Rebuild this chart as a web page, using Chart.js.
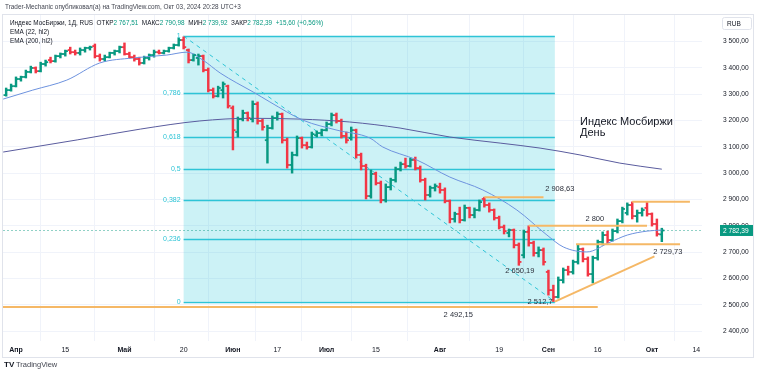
<!DOCTYPE html>
<html>
<head>
<meta charset="utf-8">
<script src="https://cdn.jsdelivr.net/npm/chart.js@4.4.1/dist/chart.umd.min.js"></script>
<style>
  html, body { margin: 0; padding: 0; background: #fff; }
  canvas { display: block; }
</style>
</head>
<body>
<canvas id="chart" width="758" height="375"></canvas>
<script>
// daily bars, index 0 = 1 Apr 2024 (two March bars before it)
const firstBar = -2;
const opens = [
  3296, 3315, 3330, 3357, 3365, 3384, 3399, 3387, 3414, 3429,
  3425, 3444, 3452, 3467, 3459, 3456, 3467, 3475, 3482, 3444,
  3433, 3440, 3456, 3463, 3478, 3452, 3440, 3433, 3418, 3437,
  3448, 3459, 3456, 3463, 3475, 3486, 3505, 3467, 3429, 3437,
  3444, 3391, 3315, 3292, 3315, 3330, 3247, 3156, 3205, 3228,
  3205, 3262, 3198, 3125, 3171, 3209, 3224, 3125, 3031, 3069,
  3133, 3106, 3099, 3144, 3152, 3163, 3186, 3220, 3198, 3141,
  3133, 3163, 3069, 3027, 2913, 2997, 2962, 2898, 2947, 2974,
  3015, 3034, 3027, 3050, 3019, 2974, 2917, 2944, 2947, 2936,
  2894, 2826, 2845, 2822, 2868, 2841, 2860, 2902, 2879, 2860,
  2830, 2795, 2773, 2784, 2727, 2689, 2777, 2735, 2697, 2708,
  2625, 2556, 2530, 2594, 2632, 2625, 2663, 2712, 2674, 2617,
  2678, 2739, 2765, 2746, 2780, 2818, 2849, 2879, 2837, 2849,
  2868, 2845, 2807, 2767.51
];
const highs = [
  3323, 3338, 3365, 3368, 3391, 3406, 3403, 3421, 3429, 3440,
  3448, 3456, 3467, 3478, 3467, 3475, 3478, 3482, 3490, 3452,
  3448, 3459, 3467, 3482, 3494, 3459, 3448, 3440, 3444, 3452,
  3467, 3467, 3467, 3478, 3490, 3512, 3517, 3471, 3452, 3452,
  3448, 3399, 3323, 3330, 3346, 3334, 3255, 3213, 3239, 3232,
  3274, 3270, 3205, 3182, 3217, 3232, 3228, 3133, 3080, 3141,
  3137, 3118, 3156, 3160, 3167, 3194, 3228, 3228, 3205, 3156,
  3175, 3167, 3076, 3034, 3012, 3004, 2970, 2959, 2981, 3023,
  3042, 3057, 3057, 3061, 3027, 2981, 2951, 2959, 2962, 2944,
  2898, 2852, 2871, 2879, 2871, 2868, 2898, 2908.63, 2887, 2864,
  2837, 2803, 2788, 2788, 2735, 2784, 2800, 2742, 2720, 2716,
  2632, 2575, 2606, 2640, 2647, 2670, 2729.73, 2716, 2682, 2685,
  2746, 2777, 2780, 2788, 2826, 2871, 2887, 2891, 2860, 2868,
  2890, 2849, 2826, 2790.98
];
const lows = [
  3292, 3311, 3327, 3349, 3361, 3380, 3380, 3384, 3406, 3418,
  3421, 3437, 3444, 3452, 3448, 3448, 3459, 3467, 3437, 3425,
  3425, 3437, 3448, 3456, 3448, 3437, 3425, 3410, 3414, 3429,
  3440, 3452, 3452, 3459, 3471, 3482, 3471, 3418, 3425, 3410,
  3384, 3308, 3285, 3289, 3285, 3247, 3088, 3137, 3198, 3198,
  3194, 3186, 3163, 3038, 3167, 3201, 3114, 3019, 3000, 3065,
  3095, 3091, 3095, 3137, 3141, 3160, 3179, 3190, 3133, 3114,
  3125, 3057, 3012, 2902, 2905, 2955, 2887, 2890, 2936, 2966,
  3008, 3019, 3023, 3012, 2966, 2898, 2909, 2932, 2924, 2887,
  2811, 2814, 2811, 2818, 2830, 2830, 2856, 2871, 2852, 2822,
  2788, 2769, 2758, 2716, 2650.19, 2678, 2723, 2685, 2682, 2651,
  2537, 2512.7, 2526, 2583, 2613, 2617, 2655, 2663, 2609, 2583,
  2670, 2727, 2735, 2742, 2773, 2811, 2841, 2826, 2814, 2837,
  2837, 2799, 2761, 2739.92
];
const closes = [
  3315, 3330, 3357, 3365, 3384, 3399, 3387, 3414, 3421, 3425,
  3444, 3452, 3463, 3459, 3456, 3467, 3475, 3478, 3444, 3433,
  3440, 3456, 3463, 3478, 3452, 3440, 3433, 3418, 3437, 3448,
  3459, 3456, 3463, 3475, 3486, 3505, 3478, 3429, 3448, 3444,
  3391, 3315, 3292, 3323, 3338, 3255, 3163, 3205, 3228, 3209,
  3262, 3198, 3175, 3171, 3209, 3224, 3125, 3031, 3069, 3133,
  3106, 3099, 3148, 3152, 3163, 3186, 3220, 3198, 3141, 3125,
  3163, 3069, 3027, 2913, 2997, 2962, 2898, 2947, 2974, 3015,
  3034, 3027, 3050, 3019, 2974, 2917, 2944, 2951, 2936, 2894,
  2826, 2845, 2822, 2868, 2841, 2860, 2890, 2879, 2860, 2830,
  2795, 2780, 2784, 2727, 2663, 2777, 2735, 2697, 2708, 2663,
  2556, 2530, 2594, 2632, 2625, 2663, 2712, 2674, 2617, 2678,
  2739, 2765, 2746, 2780, 2818, 2864, 2879, 2837, 2849, 2860,
  2845, 2807, 2769, 2782.39
];

const dateTicks = [0, 10, 22, 34, 44, 53, 63, 73, 86, 98, 108, 118, 129, 138];
const dateLabels = ['Апр', '15', 'Май', '20', 'Июн', '17', 'Июл', '15', 'Авг', '19', 'Сен', '16', 'Окт', '14'];
const monthNames = ['Апр', 'Май', 'Июн', 'Июл', 'Авг', 'Сен', 'Окт'];
const priceTicks = [2400, 2500, 2600, 2700, 2800, 2900, 3000, 3100, 3200, 3300, 3400, 3500];

const ema22Idx = [-2.6, 3.4, 10.3, 17, 23.7, 30.6, 34.7, 37.9, 41.4, 44.8, 48.1, 51.5, 58.2, 65.1,
  71.8, 74.4, 81.3, 88, 94.7, 101.6, 107.7, 111, 115.8, 120.5, 124, 128, 131];
const ema22Val = [3281, 3315, 3353, 3418, 3437, 3448, 3459, 3429, 3380, 3342, 3308, 3270, 3201, 3163,
  3133, 3099, 3050, 2985, 2936, 2860, 2765, 2720, 2701, 2738, 2765, 2780, 2784];
const ema200Idx = [-2.6, 12.4, 25.2, 37.3, 47.5, 57.6, 67.7, 77.9, 88, 98.2, 106.3, 114.4, 122.5, 131];
const ema200Val = [3080, 3126, 3167, 3198, 3208, 3205, 3194, 3171, 3137, 3114, 3095, 3069, 3038, 3015];

const fibRatios = [0, 0.236, 0.382, 0.5, 0.618, 0.786, 1];
const fibNames = ['0', '0,236', '0,382', '0,5', '0,618', '0,786', '1'];
const fibLow = 2512.7;
const fibHigh = 3520;
const lastPrice = 2782.39;

const UP = '#089981';
const DOWN = '#f23645';
const FIB = '#2ec4d6';
const ORANGE = '#f5b866';
const FONT = '"Liberation Sans", Arial, sans-serif';

function fmt(v, d) {
  const parts = v.toFixed(d).split('.');
  const whole = parts[0].replace(/\B(?=(\d{3})+(?!\d))/g, ' ');
  return d ? whole + ',' + parts[1] : whole;
}

function line(ctx, x0, y0, x1, y1) {
  ctx.beginPath();
  ctx.moveTo(x0, y0);
  ctx.lineTo(x1, y1);
  ctx.stroke();
}

const overlay = {
  id: 'overlay',
  beforeDatasetsDraw(chart) {
    const { ctx, chartArea: a, scales: { x, y } } = chart;
    ctx.save();
    ctx.beginPath();
    ctx.rect(a.left, a.top, a.right - a.left, a.bottom - a.top);
    ctx.clip();

    // fibonacci box from the May high to the September low
    const fx0 = x.getPixelForValue(34), fx1 = x.getPixelForValue(109.3);
    const fyTop = y.getPixelForValue(fibHigh), fyBot = y.getPixelForValue(fibLow);
    ctx.fillStyle = 'rgba(0,188,212,0.2)';
    ctx.fillRect(fx0, fyTop, fx1 - fx0, fyBot - fyTop);
    ctx.strokeStyle = FIB;
    ctx.lineWidth = 1.5;
    ctx.font = '7px ' + FONT;
    ctx.fillStyle = FIB;
    ctx.textAlign = 'right';
    ctx.textBaseline = 'middle';
    fibRatios.forEach((r, k) => {
      const py = Math.round(y.getPixelForValue(fibLow + r * (fibHigh - fibLow))) + 0.5;
      line(ctx, fx0, py, fx1, py);
      ctx.fillText(fibNames[k], fx0 - 3, py);
    });
    ctx.setLineDash([4, 4]);
    ctx.lineWidth = 1;
    line(ctx, fx0, fyTop, fx1, fyBot);
    ctx.setLineDash([]);

    // current price line
    const py = Math.round(y.getPixelForValue(lastPrice)) + 0.5;
    ctx.strokeStyle = 'rgba(8,153,129,0.45)';
    ctx.setLineDash([2, 2]);
    line(ctx, a.left, py, a.right, py);
    ctx.setLineDash([]);
    ctx.restore();
  },
  afterDatasetsDraw(chart) {
    const { ctx, chartArea: a, scales: { x, y } } = chart;
    ctx.save();
    ctx.beginPath();
    ctx.rect(a.left, a.top, a.right - a.left, a.bottom - a.top);
    ctx.clip();

    // open / close ticks of the OHLC bars
    ctx.lineWidth = 1.8;
    closes.forEach((c, k) => {
      const px = x.getPixelForValue(firstBar + k);
      ctx.strokeStyle = c >= opens[k] ? UP : DOWN;
      const yo = y.getPixelForValue(opens[k]), yc = y.getPixelForValue(c);
      line(ctx, px - 2.6, yo, px, yo);
      line(ctx, px, yc, px + 2.6, yc);
    });

    // hand drawn levels
    ctx.strokeStyle = ORANGE;
    ctx.lineWidth = 2;
    const hl = (p, i0, i1) => {
      const py = y.getPixelForValue(p);
      line(ctx, x.getPixelForValue(i0), py, x.getPixelForValue(i1), py);
    };
    hl(2492.15, -3, 118);
    hl(2908.63, 95, 107);
    hl(2800, 104, 128);
    hl(2891, 125, 136.7);
    hl(2729.73, 113.6, 134.7);
    line(ctx, x.getPixelForValue(109.3), y.getPixelForValue(fibLow),
      x.getPixelForValue(129.5), y.getPixelForValue(2684));

    ctx.fillStyle = '#2a2e39';
    ctx.font = '7.5px ' + FONT;
    ctx.textAlign = 'center';
    ctx.textBaseline = 'middle';
    const tx = (txt, i, p, dy) => ctx.fillText(txt, x.getPixelForValue(i), y.getPixelForValue(p) + dy);
    tx('2 492,15', 89.7, 2492.15, 8);
    tx('2 908,63', 110.3, 2908.63, -8);
    tx('2 800', 117.4, 2800, -7);
    tx('2 729,73', 132.2, 2729.73, 8);
    tx('2 650,19', 102.2, 2650.19, 6);
    tx('2 512,7', 106.3, 2512.7, 0);

    ctx.fillStyle = '#131722';
    ctx.font = '11px ' + FONT;
    ctx.textAlign = 'left';
    ctx.fillText('Индекс Мосбиржи', 580, 122);
    ctx.fillText('День', 580, 133);
    ctx.restore();
  },
  afterDraw(chart) {
    const { ctx, scales: { y } } = chart;
    ctx.save();
    // frame
    ctx.strokeStyle = '#e0e3eb';
    ctx.lineWidth = 1;
    ctx.strokeRect(2.5, 14.5, 751, 343);

    // headers
    ctx.textBaseline = 'middle';
    ctx.textAlign = 'left';
    ctx.font = '6.4px ' + FONT;
    ctx.fillStyle = '#434651';
    ctx.fillText('Trader-Mechanic опубликовал(а) на TradingView.com, Окт 03, 2024 20:28 UTC+3', 5, 7);
    let cx = 10;
    const seg = (t, col) => { ctx.fillStyle = col; ctx.fillText(t, cx, 23); cx += ctx.measureText(t).width; };
    seg('Индекс МосБиржи, 1Д, RUS  ', '#131722');
    seg('ОТКР', '#131722'); seg(fmt(opens[opens.length - 1], 2) + '  ', UP);
    seg('МАКС', '#131722'); seg(fmt(highs[highs.length - 1], 2) + '  ', UP);
    seg('МИН', '#131722'); seg(fmt(lows[lows.length - 1], 2) + '  ', UP);
    seg('ЗАКР', '#131722'); seg(fmt(lastPrice, 2) + '  ', UP);
    seg('+15,60 (+0,56%)', UP);
    ctx.fillStyle = '#131722';
    ctx.fillText('EMA (22, hl2)', 10, 32);
    ctx.fillText('EMA (200, hl2)', 10, 41);

    // currency box
    ctx.strokeStyle = '#e0e3eb';
    ctx.beginPath();
    ctx.roundRect(722.5, 17.5, 29, 12, 2);
    ctx.stroke();
    ctx.fillStyle = '#131722';
    ctx.font = '6.5px ' + FONT;
    ctx.fillText('RUB', 727, 24);

    // last price label
    const py = y.getPixelForValue(lastPrice);
    ctx.fillStyle = UP;
    ctx.fillRect(720, py - 5.5, 33, 11);
    ctx.fillStyle = '#fff';
    ctx.font = '6.6px ' + FONT;
    ctx.fillText(fmt(lastPrice, 2), 723, py + 0.5);

    // footer
    ctx.fillStyle = '#131722';
    ctx.font = 'bold 8px ' + FONT;
    ctx.fillText('TV', 4, 365);
    ctx.font = '7.5px ' + FONT;
    ctx.fillStyle = '#434651';
    ctx.fillText('TradingView', 16, 365);
    ctx.restore();
  }
};

const barData = closes.map((c, k) => ({ x: firstBar + k, y: [lows[k], highs[k]] }));
const barColors = closes.map((c, k) => (c >= opens[k] ? UP : DOWN));

new Chart(document.getElementById('chart'), {
  data: {
    datasets: [
      {
        type: 'line',
        data: ema22Idx.map((v, k) => ({ x: v, y: ema22Val[k] })),
        borderColor: '#6d92de',
        borderWidth: 1,
        pointRadius: 0,
        cubicInterpolationMode: 'monotone',
        order: 1
      },
      {
        type: 'line',
        data: ema200Idx.map((v, k) => ({ x: v, y: ema200Val[k] })),
        borderColor: '#5a5c9e',
        borderWidth: 1,
        pointRadius: 0,
        cubicInterpolationMode: 'monotone',
        order: 1
      },
      {
        type: 'bar',
        data: barData,
        backgroundColor: barColors,
        barThickness: 1.8,
        order: 2
      }
    ]
  },
  options: {
    responsive: false,
    animation: false,
    layout: { autoPadding: false, padding: { left: 3, top: 15, right: 2, bottom: 0 } },
    plugins: { legend: { display: false }, tooltip: { enabled: false } },
    scales: {
      x: {
        type: 'linear',
        offset: false,
        min: -2.64,
        max: 139.15,
        afterBuildTicks: (s) => { s.ticks = dateTicks.map(v => ({ value: v })); },
        afterFit: (s) => { s.height = 34; s.paddingLeft = 0; s.paddingRight = 0; },
        border: { display: false },
        grid: { color: '#f0f3fa', drawTicks: false },
        ticks: {
          autoSkip: false,
          maxRotation: 0,
          padding: 5,
          color: '#131722',
          font: (c) => ({
            family: FONT,
            size: 7,
            weight: c.tick && monthNames.includes(dateLabels[c.index]) ? 'bold' : 'normal'
          }),
          callback: (v, i) => dateLabels[i]
        }
      },
      y: {
        position: 'right',
        min: 2363,
        max: 3600,
        afterBuildTicks: (s) => { s.ticks = priceTicks.map(v => ({ value: v })); },
        afterFit: (s) => { s.width = 54; s.paddingTop = 0; s.paddingBottom = 0; },
        border: { display: false },
        grid: { color: '#f0f3fa', drawTicks: false },
        ticks: {
          padding: 21,
          color: '#131722',
          font: { family: FONT, size: 6.6 },
          callback: (v) => fmt(v, 2)
        }
      }
    }
  },
  plugins: [overlay]
});
</script>
</body>
</html>
